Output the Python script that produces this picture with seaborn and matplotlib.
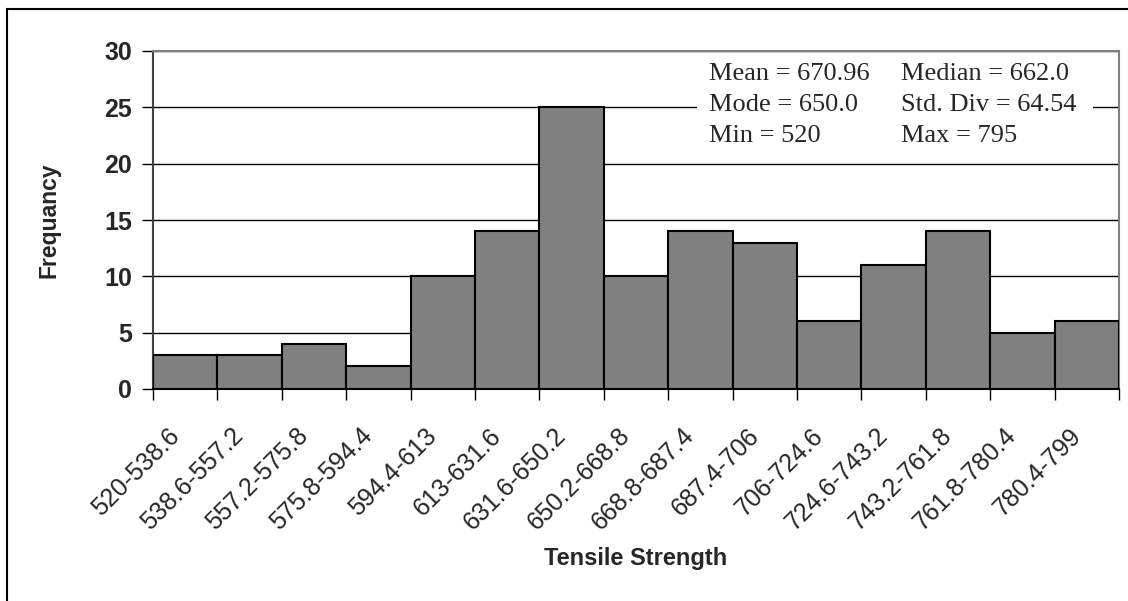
import numpy as np
import pandas as pd
import matplotlib
matplotlib.use("Agg")
import matplotlib.pyplot as plt
import matplotlib.transforms as mtrans
from matplotlib.patches import Rectangle
import seaborn as sns

sns.set_theme(style="white")
plt.rcParams['font.family'] = ['Liberation Sans', 'DejaVu Sans']

bins = ['520-538.6', '538.6-557.2', '557.2-575.8', '575.8-594.4', '594.4-613',
        '613-631.6', '631.6-650.2', '650.2-668.8', '668.8-687.4', '687.4-706',
        '706-724.6', '724.6-743.2', '743.2-761.8', '761.8-780.4', '780.4-799']
freq = [3, 3, 4, 2, 10, 14, 25, 10, 14, 13, 6, 11, 14, 5, 6]
stats_left = ['Mean = 670.96', 'Mode = 650.0', 'Min = 520']
stats_right = ['Median = 662.0', 'Std. Div = 64.54', 'Max = 795']

df = pd.DataFrame({'bin': bins, 'freq': freq})

fig = plt.figure(figsize=(11.28, 6.01), dpi=100)
ax = fig.add_axes([153 / 1128, 1 - 389 / 601, 966 / 1128, 338 / 601])

sns.barplot(data=df, x='bin', y='freq', color='#808080', width=1.0,
            saturation=1, edgecolor='black', linewidth=1.5, ax=ax, zorder=3)

ax.set_xlim(-0.5, len(bins) - 0.5)
ax.set_ylim(0, 30)
ax.set_yticks(np.arange(0, 31, 5))
ax.yaxis.grid(True, color='black', linewidth=1)
ax.set_axisbelow(True)

# ticks on bar edges, labels at bar centres
ax.set_xticks(np.arange(-0.5, len(bins)), minor=False)
ax.set_xticklabels([])
ax.set_xticks(np.arange(len(bins)), minor=True)
ax.set_xticklabels(bins, minor=True, rotation=45, ha='right', va='center',
                   rotation_mode='anchor', fontsize=18)
ax.tick_params(axis='x', which='major', direction='out', length=8,
               width=1, color='black', bottom=True)
ax.tick_params(axis='x', which='minor', length=0, pad=31)
ax.tick_params(axis='y', direction='out', length=8, width=1, color='black',
               left=True, labelsize=18, pad=7)
for lbl in ax.get_yticklabels():
    lbl.set_fontweight('bold')

# nudge the rotated labels a little left, like Excel places them
shift = mtrans.ScaledTranslation(-7 / 72, 0, fig.dpi_scale_trans)
for lbl in ax.get_xticklabels(minor=True):
    lbl.set_transform(lbl.get_transform() + shift)

for side in ['top', 'right']:
    ax.spines[side].set_color('#808080')
    ax.spines[side].set_linewidth(1.5)
ax.spines['left'].set_color('#404040')
ax.spines['left'].set_linewidth(1.5)
ax.spines['bottom'].set_color('black')
ax.spines['bottom'].set_linewidth(1.5)

ax.set_xlabel('Tensile Strength', fontsize=17, fontweight='bold')
ax.set_ylabel('Frequancy', fontsize=16.5, fontweight='bold')
ax.xaxis.set_label_coords(0.5, (389 - 547) / 338)
ax.yaxis.set_label_coords((60 - 153) / 966, 0.5)

# stats box
ax.add_patch(Rectangle(((697 - 153) / 966, 0.69), (1093 - 697) / 966, 0.305,
                       transform=ax.transAxes, facecolor='white',
                       edgecolor='none', zorder=4))
for i, (a, b) in enumerate(zip(stats_left, stats_right)):
    y = (389 - 80 - 31 * i) / 338
    ax.text((709 - 153) / 966, y, a, transform=ax.transAxes, fontsize=19,
            family=['Liberation Serif'], va='baseline', zorder=5)
    ax.text((901 - 153) / 966, y, b, transform=ax.transAxes, fontsize=19,
            family=['Liberation Serif'], va='baseline', zorder=5)

# outer chart frame
fig.patches.append(Rectangle((7 / 1128, -0.1), 1.2, 1 - 9 / 601 + 0.1,
                             transform=fig.transFigure, fill=False,
                             edgecolor='black', linewidth=1.5))

fig.savefig('out.png', dpi=100)
